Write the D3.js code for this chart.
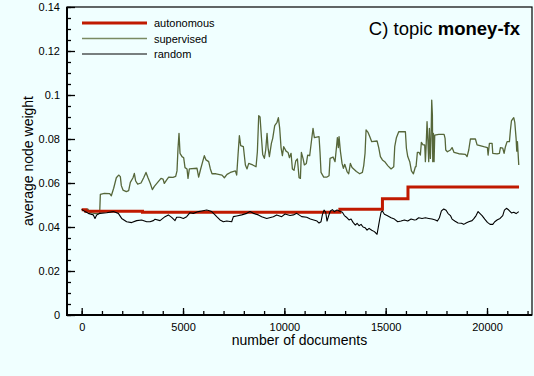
<!DOCTYPE html>
<html><head><meta charset="utf-8">
<script src="https://cdn.jsdelivr.net/npm/d3@7"></script>
<style>body{margin:0;background:#f0ffff;} svg{display:block;}</style>
</head><body>
<svg id="c" width="534" height="376"></svg>
<script>
const seriesNames = ["autonomous", "supervised", "random"];
const seriesColors = ["#c01a00", "#56673a", "#000000"];

const autoDocs = [0, 200, 3000, 12740, 14840, 16100, 21580];
const autoVals = [0.0478, 0.0472, 0.0467, 0.0481, 0.0528, 0.0582, 0.0582];

const supDocs = [0,180,295,393,673,887,920,1117,1380,1462,1578,1709,1824,1907,1956,2038,2203,2318,2400,2532,2598,2664,2762,2927,3058,3173,3272,3387,3486,3585,3749,3914,4012,4078,4177,4292,4506,4638,4703,4753,4802,4852,4950,5032,5098,5197,5246,5312,5690,5772,5855,5970,6052,6135,6266,6349,6431,6628,6924,7040,7171,7336,7583,7649,7714,7780,7846,7978,8077,8159,8241,8439,8603,8669,8735,8801,8866,8932,9014,9080,9146,9195,9261,9360,9426,9524,9639,9705,9771,9837,9903,9969,10084,10183,10249,10331,10397,10479,10561,10644,10726,10792,10841,10921,10987,11086,11151,11250,11349,11415,11481,11711,11761,11810,11942,12106,12205,12255,12403,12501,12567,12617,12666,12699,12765,12847,12913,12979,13094,13176,13258,13341,13555,13719,13851,13917,13982,14032,14131,14213,14311,14575,14657,14739,14838,14953,15101,15266,15398,15447,15529,15644,15973,16023,16089,16187,16270,16368,16467,16498,16564,16646,16712,16761,16844,16926,16959,16992,17041,17091,17124,17157,17206,17239,17272,17305,17322,17355,17388,17421,17618,17882,17931,17964,18046,18194,18276,18375,18605,18934,19016,19099,19181,19428,19510,19839,20020,20053,20119,20251,20284,20497,20612,20662,20777,20843,20909,20991,21106,21156,21205,21271,21320,21370,21435,21468,21501,21534,21567];
const supVals = [0.0480,0.0473,0.0482,0.0467,0.0461,0.0462,0.0548,0.0553,0.0552,0.0542,0.0576,0.0624,0.0636,0.0629,0.0588,0.0568,0.0561,0.0565,0.0603,0.0624,0.0644,0.0609,0.0595,0.0600,0.0624,0.0648,0.0624,0.0598,0.0570,0.0585,0.0603,0.0621,0.0618,0.0598,0.0612,0.0627,0.0626,0.0630,0.0655,0.0758,0.0826,0.0735,0.0720,0.0715,0.0670,0.0664,0.0621,0.0664,0.0667,0.0627,0.0658,0.0697,0.0724,0.0705,0.0697,0.0664,0.0642,0.0642,0.0636,0.0624,0.0639,0.0648,0.0655,0.0636,0.0727,0.0815,0.0770,0.0765,0.0682,0.0664,0.0689,0.0682,0.0674,0.0742,0.0906,0.0900,0.0811,0.0730,0.0712,0.0750,0.0826,0.0761,0.0720,0.0780,0.0803,0.0861,0.0876,0.0897,0.0848,0.0761,0.0724,0.0765,0.0745,0.0739,0.0715,0.0735,0.0664,0.0658,0.0700,0.0709,0.0624,0.0621,0.0739,0.0712,0.0682,0.0689,0.0727,0.0724,0.0800,0.0848,0.0806,0.0811,0.0739,0.0648,0.0627,0.0627,0.0633,0.0712,0.0718,0.0697,0.0758,0.0806,0.0761,0.0811,0.0745,0.0689,0.0667,0.0685,0.0652,0.0642,0.0689,0.0670,0.0652,0.0642,0.0648,0.0679,0.0735,0.0841,0.0830,0.0811,0.0788,0.0791,0.0761,0.0720,0.0705,0.0697,0.0679,0.0664,0.0674,0.0765,0.0806,0.0833,0.0833,0.0758,0.0720,0.0697,0.0655,0.0642,0.0674,0.0674,0.0739,0.0739,0.0727,0.0785,0.0773,0.0773,0.0697,0.0758,0.0879,0.0773,0.0697,0.0848,0.0712,0.0803,0.0977,0.0909,0.0697,0.0826,0.0697,0.0818,0.0821,0.0821,0.0803,0.0750,0.0742,0.0750,0.0761,0.0739,0.0733,0.0730,0.0720,0.0750,0.0800,0.0800,0.0773,0.0765,0.0761,0.0727,0.0780,0.0780,0.0735,0.0732,0.0735,0.0761,0.0758,0.0735,0.0765,0.0788,0.0788,0.0841,0.0882,0.0891,0.0897,0.0876,0.0803,0.0745,0.0788,0.0735,0.0682];

const rndDocs = [0,163,327,574,656,739,903,1232,1561,1808,1972,2219,2466,2713,2959,3206,3371,3535,3618,3865,4111,4276,4440,4605,4687,4851,5016,5180,5345,5509,5756,5921,6167,6299,6414,6579,6661,6826,6990,7155,7402,7484,7648,7895,8142,8306,8471,8717,8882,9129,9458,9622,9869,10034,10280,10445,10609,10856,11103,11283,11448,11612,11711,11810,11876,11958,12040,12106,12189,12271,12370,12468,12600,12765,12863,12962,13094,13193,13291,13390,13505,13587,13686,13785,13883,13982,14081,14180,14311,14443,14575,14641,14706,14772,14838,14936,15068,15266,15431,15595,15760,15924,16089,16254,16418,16498,16630,16794,16959,17124,17288,17453,17552,17651,17750,17865,17980,18079,18194,18276,18408,18572,18737,18852,18967,19099,19263,19362,19461,19560,19658,19757,19889,20020,20152,20284,20382,20514,20645,20777,20859,20958,21073,21205,21320,21435,21567];
const rndVals = [0.0480,0.0470,0.0462,0.0455,0.0439,0.0455,0.0462,0.0465,0.0470,0.0462,0.0439,0.0424,0.0420,0.0429,0.0432,0.0424,0.0424,0.0429,0.0435,0.0429,0.0447,0.0455,0.0444,0.0429,0.0444,0.0444,0.0439,0.0447,0.0465,0.0462,0.0470,0.0473,0.0477,0.0474,0.0470,0.0455,0.0447,0.0432,0.0424,0.0427,0.0424,0.0447,0.0450,0.0455,0.0462,0.0470,0.0462,0.0455,0.0447,0.0439,0.0447,0.0455,0.0447,0.0459,0.0452,0.0455,0.0462,0.0447,0.0444,0.0436,0.0432,0.0427,0.0418,0.0424,0.0455,0.0477,0.0467,0.0427,0.0452,0.0473,0.0479,0.0470,0.0477,0.0470,0.0467,0.0452,0.0442,0.0432,0.0436,0.0421,0.0409,0.0417,0.0406,0.0412,0.0400,0.0397,0.0386,0.0394,0.0385,0.0379,0.0367,0.0402,0.0436,0.0467,0.0473,0.0458,0.0452,0.0442,0.0436,0.0424,0.0427,0.0432,0.0427,0.0436,0.0432,0.0433,0.0442,0.0439,0.0442,0.0439,0.0436,0.0432,0.0427,0.0442,0.0473,0.0482,0.0476,0.0461,0.0452,0.0436,0.0427,0.0418,0.0417,0.0412,0.0418,0.0424,0.0429,0.0439,0.0452,0.0470,0.0461,0.0452,0.0436,0.0421,0.0412,0.0412,0.0424,0.0433,0.0439,0.0452,0.0477,0.0485,0.0477,0.0464,0.0467,0.0461,0.0470];

const xTicks = [0, 5000, 10000, 15000, 20000];
const xMinorTicks = d3.range(0, 22001, 1000);
const yTicks = [0, 0.02, 0.04, 0.06, 0.08, 0.1, 0.12, 0.14];
const yMinorTicks = d3.range(0, 0.1401, 0.005);
const xTitle = "number of documents";
const yTitle = "average node weight";

const FONT = "'Liberation Sans', Arial, Helvetica, sans-serif";
const L = 67, R = 532, T = 7, B = 315;
const svg = d3.select("#c");
const x = d3.scaleLinear().domain([-725, 22220]).range([L, R]);
const y = d3.scaleLinear().domain([0, 0.14]).range([B, T]);

svg.append("rect").attr("width", 534).attr("height", 376).attr("fill", "#f0ffff");

// frame
svg.append("rect").attr("x", L).attr("y", T).attr("width", R - L).attr("height", B - T)
  .attr("fill", "none").attr("stroke", "#000").attr("stroke-width", 1.2);

// minor ticks
svg.append("g").attr("transform", `translate(${L},0)`)
  .call(d3.axisLeft(y).tickValues(yMinorTicks).tickSize(-4).tickFormat(""))
  .call(g => g.select(".domain").remove());
svg.append("g").attr("transform", `translate(0,${B})`)
  .call(d3.axisBottom(x).tickValues(xMinorTicks).tickSize(-4).tickFormat(""))
  .call(g => g.select(".domain").remove());

// major ticks
const yAxis = svg.append("g").attr("transform", `translate(${L},0)`)
  .call(d3.axisLeft(y).tickValues(yTicks).tickSize(-8).tickPadding(7).tickFormat(d => d3.format("")(+d.toFixed(2))));
yAxis.select(".domain").remove();
const xAxis = svg.append("g").attr("transform", `translate(0,${B})`)
  .call(d3.axisBottom(x).tickValues(xTicks).tickSize(-7).tickPadding(8).tickFormat(d3.format("d")));
xAxis.select(".domain").remove();
svg.selectAll(".tick line").attr("stroke-width", 1.3);
svg.selectAll(".tick text").attr("font-family", FONT).attr("font-size", 11).attr("fill", "#000");

// thick axis lines
svg.append("line").attr("x1", L).attr("x2", L).attr("y1", T).attr("y2", B + 1).attr("stroke", "#000").attr("stroke-width", 2);
svg.append("line").attr("x1", L - 1).attr("x2", R).attr("y1", B).attr("y2", B).attr("stroke", "#000").attr("stroke-width", 2);

// lines
const line = d3.line().x(d => x(d[0])).y(d => y(d[1]));
const autoData = autoDocs.map((d, i) => [d, autoVals[i]]);
const supData = supDocs.map((d, i) => [d, supVals[i]]);
const rndData = rndDocs.map((d, i) => [d, rndVals[i]]);

svg.append("path").datum(supData).attr("d", line).attr("fill", "none")
  .attr("stroke", seriesColors[1]).attr("stroke-width", 1.3).attr("stroke-linejoin", "round");
svg.append("path").datum(autoData).attr("d", line.curve(d3.curveStepAfter)).attr("fill", "none")
  .attr("stroke", seriesColors[0]).attr("stroke-width", 3);
line.curve(d3.curveLinear);
svg.append("path").datum(rndData).attr("d", line).attr("fill", "none")
  .attr("stroke", seriesColors[2]).attr("stroke-width", 1.1).attr("stroke-linejoin", "round");

// legend
const legW = [3, 1.5, 1.1];
seriesNames.forEach((n, i) => {
  const ly = 23 + i * 15.5;
  svg.append("line").attr("x1", 82).attr("x2", 147).attr("y1", ly).attr("y2", ly)
    .attr("stroke", i === 1 ? "#7a8a62" : seriesColors[i]).attr("stroke-width", legW[i]);
  svg.append("text").attr("x", 154).attr("y", ly + 4).text(n)
    .attr("font-family", FONT).attr("font-size", 11);
});

// title
const t = svg.append("text").attr("x", 520).attr("y", 35).attr("text-anchor", "end")
  .attr("font-family", FONT).attr("font-size", 18.5);
t.append("tspan").text("C) topic ");
t.append("tspan").attr("font-weight", "bold").text("money-fx");

// axis titles
svg.append("text").attr("x", (L + R) / 2).attr("y", 345).attr("text-anchor", "middle")
  .attr("font-family", FONT).attr("font-size", 14).text(xTitle);
svg.append("text").attr("transform", `translate(33,${(T + B) / 2}) rotate(-90)`).attr("text-anchor", "middle")
  .attr("font-family", FONT).attr("font-size", 14).text(yTitle);
</script>
</body></html>
